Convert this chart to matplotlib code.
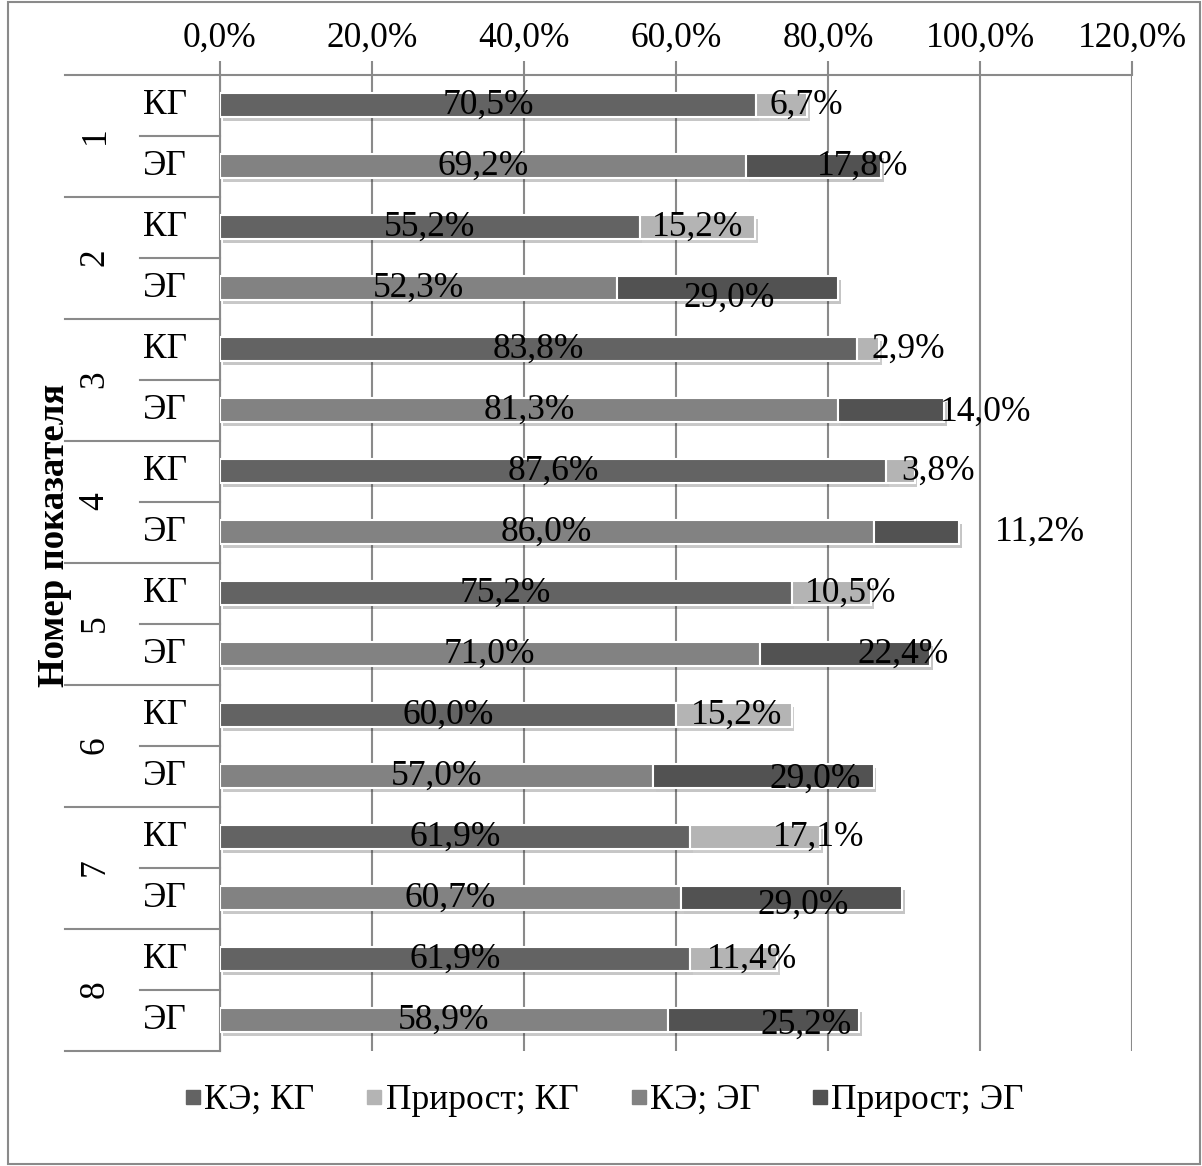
import numpy as np
import matplotlib
matplotlib.use("Agg")
import matplotlib.pyplot as plt
import matplotlib.patheffects as pe
from matplotlib.lines import Line2D
from matplotlib.patches import Rectangle

plt.rcParams['font.family'] = ['Liberation Serif', 'DejaVu Serif']

groups = ['1', '2', '3', '4', '5', '6', '7', '8']
subgroups = ['КГ', 'ЭГ']
ke_kg = [70.5, 55.2, 83.8, 87.6, 75.2, 60.0, 61.9, 61.9]
inc_kg = [6.7, 15.2, 2.9, 3.8, 10.5, 15.2, 17.1, 11.4]
ke_eg = [69.2, 52.3, 81.3, 86.0, 71.0, 57.0, 60.7, 58.9]
inc_eg = [17.8, 29.0, 14.0, 11.2, 22.4, 29.0, 29.0, 25.2]
# where the increment labels were placed in the original (they were dragged by hand)
inc_kg_lbl = [77.1, 62.8, 90.5, 94.5, 83.0, 68.0, 78.7, 70.0]
inc_eg_lbl = [84.5, 67.0, 100.7, 107.9, 89.9, 78.3, 76.7, 77.1]
inc_eg_dy = [0.0, 0.16, 0.03, 0.0, 0.0, 0.05, 0.12, 0.08]
xticks = [0, 20, 40, 60, 80, 100, 120]
legend_names = ['КЭ; КГ', 'Прирост; КГ', 'КЭ; ЭГ', 'Прирост; ЭГ']
colors = ['#636363', '#b4b4b4', '#828282', '#525252']

fs = 25.5
grid_c = '#8a8a8a'

fig = plt.figure(figsize=(12.02, 11.66), dpi=100)
ax = fig.add_axes([0.183, 0.099, 0.7588, 0.8371])

y_kg = np.arange(8) * 2
y_eg = y_kg + 1
h = 0.4
shadow = [pe.SimplePatchShadow(offset=(2, -3), alpha=0.25), pe.Normal()]

b1 = ax.barh(y_kg, ke_kg, height=h, color=colors[0], edgecolor='white', linewidth=1.5, zorder=3)
b2 = ax.barh(y_kg, inc_kg, left=ke_kg, height=h, color=colors[1], edgecolor='white', linewidth=1.5, zorder=3)
b3 = ax.barh(y_eg, ke_eg, height=h, color=colors[2], edgecolor='white', linewidth=1.5, zorder=3)
b4 = ax.barh(y_eg, inc_eg, left=ke_eg, height=h, color=colors[3], edgecolor='white', linewidth=1.5, zorder=3)
for bars in (b1, b2, b3, b4):
    for p in bars:
        p.set_path_effects(shadow)

def pct(v):
    return f"{v:.1f}%".replace('.', ',')

for i in range(8):
    ax.text(ke_kg[i] / 2, y_kg[i], pct(ke_kg[i]), ha='center', va='center', fontsize=fs, zorder=5)
    ax.text(ke_eg[i] / 2, y_eg[i], pct(ke_eg[i]), ha='center', va='center', fontsize=fs, zorder=5)
    ax.text(inc_kg_lbl[i], y_kg[i], pct(inc_kg[i]), ha='center', va='center', fontsize=fs, zorder=5)
    ax.text(inc_eg_lbl[i], y_eg[i] + inc_eg_dy[i], pct(inc_eg[i]), ha='center', va='center', fontsize=fs, zorder=5)

ax.set_xlim(0, 120)
ax.set_ylim(15.5, -0.5)
ax.set_xticks(xticks)
ax.set_xticklabels([pct(v) for v in xticks], fontsize=fs)
ax.xaxis.tick_top()
ax.tick_params(axis='x', direction='out', length=10, width=1.5, color=grid_c, pad=4)
ax.set_yticks([])
ax.grid(axis='x', color=grid_c, linewidth=1.5, zorder=0)
for s in ['right', 'bottom']:
    ax.spines[s].set_visible(False)
for s in ['left', 'top']:
    ax.spines[s].set_color(grid_c)
    ax.spines[s].set_linewidth(1.5)

# multilevel category axis
tr = ax.get_yaxis_transform()
x_outer = -0.170
x_inner = -0.0877
for g in range(9):
    yb = g * 2 - 0.5
    ax.plot([x_outer, 0], [yb, yb], color=grid_c, lw=1.5, transform=tr, clip_on=False)
for g in range(8):
    ym = g * 2 + 0.5
    ax.plot([x_inner, 0], [ym, ym], color=grid_c, lw=1.5, transform=tr, clip_on=False)
    ax.text(-0.137, g * 2 + 0.5, groups[g], rotation=90, ha='center', va='center',
            fontsize=fs, transform=tr)
    ax.text(-0.060, y_kg[g], subgroups[0], ha='center', va='center', fontsize=fs, transform=tr)
    ax.text(-0.060, y_eg[g], subgroups[1], ha='center', va='center', fontsize=fs, transform=tr)

ax.text(-0.181, 0.528, 'Номер показателя', rotation=90, ha='center', va='center',
        fontsize=26.5, fontweight='bold', transform=ax.transAxes)

handles = [Line2D([], [], marker='s', linestyle='none', markersize=10, color=c) for c in colors]
fig.legend(handles, legend_names, loc='center', bbox_to_anchor=(0.503, 0.056), ncol=4,
           frameon=False, fontsize=fs, handlelength=0.4, handletextpad=0.12,
           columnspacing=1.5)

fig.add_artist(Rectangle((0.007, 0.002), 0.991, 0.996, transform=fig.transFigure,
                         fill=False, edgecolor=grid_c, linewidth=1.5))

fig.savefig('out.png', dpi=100)
